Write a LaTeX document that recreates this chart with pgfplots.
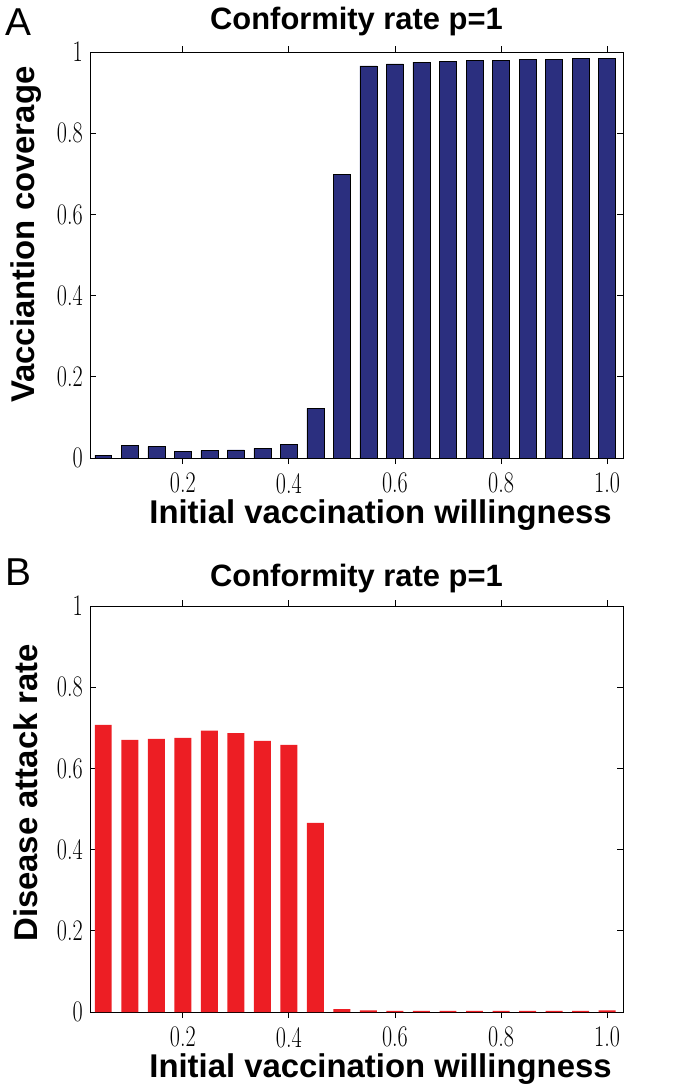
\documentclass[border=0pt]{standalone}
\usepackage{fontspec}
\usepackage{graphicx}
\usepackage{pgfplots}
\pgfplotsset{compat=1.18}
\newfontfamily\arial{Liberation Sans}
\definecolor{barblue}{RGB}{43,47,127}
\definecolor{barred}{RGB}{237,30,36}
% tall, narrow tick numbers as in the reference
\newcommand\tl[1]{\scalebox{0.74}[1]{#1}}

\pgfplotsset{panel/.style={
    scale only axis, width=533bp, height=406bp,
    xmin=0.025, xmax=1.03, ymin=0, ymax=1,
    xtick={0.2,0.4,0.6,0.8,1.0},
    xticklabels={\tl{0.2},\tl{0.4},\tl{0.6},\tl{0.8},\tl{1.0}},
    ytick={0,0.2,0.4,0.6,0.8,1},
    yticklabels={\tl{0},\tl{0.2},\tl{0.4},\tl{0.6},\tl{0.8},\tl{1}},
    tick align=inside, major tick length=6bp,
    axis line style={line width=0.8bp},
    every tick/.style={line width=0.8bp, black},
    tick label style={font=\fontsize{30}{34}\selectfont, inner sep=0bp},
    xticklabel style={yshift=-9bp},
    yticklabel style={xshift=-7bp},
    title={Conformity rate p=1},
    title style={font=\arial\bfseries\fontsize{31}{36}\selectfont,
      at={(axis description cs:0.5,1)}, anchor=center, yshift=25bp},
    xlabel={Initial vaccination willingness},
    xlabel style={font=\arial\bfseries\fontsize{33}{38}\selectfont, inner sep=0bp,
      at={(axis description cs:0.545,0)}, anchor=center, yshift=-57bp},
    ylabel style={font=\arial\bfseries\fontsize{33}{38}\selectfont,
      anchor=center, yshift=64bp},
    ybar, bar width=0.032, bar shift=0pt,
  }}

\begin{document}
\begin{tikzpicture}
  \path[use as bounding box] (0,0) rectangle (689bp,-1085bp);

  % panel A
  \begin{axis}[panel, at={(90bp,-458bp)}, anchor=south west,
      ylabel={Vacciantion coverage},
      ylabel style={at={(axis description cs:0,0.55)}}]
    \addplot[fill=barblue, draw=black, line width=0.5bp] coordinates {
      (0.05,0.007) (0.10,0.031) (0.15,0.028) (0.20,0.016) (0.25,0.018)
      (0.30,0.020) (0.35,0.024) (0.40,0.034) (0.45,0.122) (0.50,0.698)
      (0.55,0.966) (0.60,0.971) (0.65,0.975) (0.70,0.977) (0.75,0.979)
      (0.80,0.980) (0.85,0.981) (0.90,0.982) (0.95,0.984) (1.00,0.985)};
  \end{axis}
  \node[font=\arial\fontsize{39}{44}\selectfont] at (18bp,-22bp) {A};

  % panel B
  \begin{axis}[panel, at={(90bp,-1012bp)}, anchor=south west,
      ylabel={Disease attack rate},
      ylabel style={at={(axis description cs:0,0.54)}},
      title style={yshift=-3bp}]
    \addplot[fill=barred, draw=none] coordinates {
      (0.05,0.707) (0.10,0.670) (0.15,0.673) (0.20,0.675) (0.25,0.693)
      (0.30,0.687) (0.35,0.668) (0.40,0.658) (0.45,0.466) (0.50,0.007)
      (0.55,0.004) (0.60,0.003) (0.65,0.003) (0.70,0.003) (0.75,0.003)
      (0.80,0.003) (0.85,0.003) (0.90,0.003) (0.95,0.003) (1.00,0.004)};
  \end{axis}
  \node[font=\arial\fontsize{39}{44}\selectfont] at (18bp,-572bp) {B};
\end{tikzpicture}
\end{document}
